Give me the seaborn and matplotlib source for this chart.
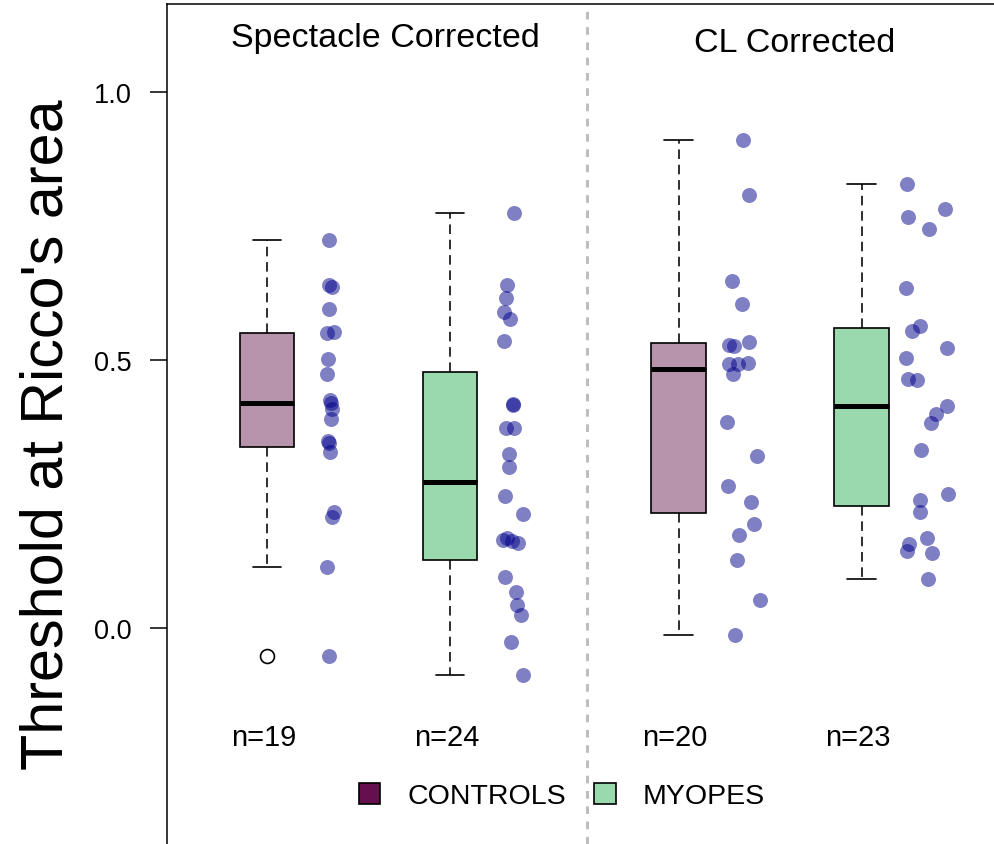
import numpy as np
import pandas as pd
import matplotlib
matplotlib.use("Agg")
import matplotlib.pyplot as plt
import seaborn as sns
from matplotlib.patches import Patch

# | data |------------------------------------------------------------------------------------------------------------|
groups = ["ctrl_spec", "myo_spec", "ctrl_cl", "myo_cl"]
positions = [1.0, 2.0, 3.25, 4.25]

ctrl_spec = [0.7245, 0.640, 0.636, 0.596, 0.552, 0.550, 0.502, 0.474, 0.425, 0.420,
             0.409, 0.389, 0.348, 0.346, 0.329, 0.217, 0.208, 0.113, -0.053]
myo_spec = [0.774, 0.639, 0.616, 0.589, 0.577, 0.536, 0.418, 0.416, 0.374, 0.373,
            0.325, 0.300, 0.246, 0.213, 0.167, 0.165, 0.162, 0.158, 0.095, 0.067,
            0.043, 0.025, -0.026, -0.088]
ctrl_cl = [0.910, 0.808, 0.647, 0.6045, 0.534, 0.528, 0.5255, 0.4938, 0.4925, 0.4925,
           0.474, 0.384, 0.320, 0.2655, 0.2345, 0.194, 0.174, 0.127, 0.052, -0.013]
myo_cl = [0.828, 0.782, 0.767, 0.744, 0.634, 0.563, 0.555, 0.522, 0.504, 0.465,
          0.463, 0.415, 0.399, 0.3825, 0.333, 0.250, 0.239, 0.216, 0.167, 0.157,
          0.144, 0.140, 0.091]

# horizontal jitter of each point (category units), as seen in the picture
jit_ctrl_spec = [0, 0, 0.015, 0, 0.027, -0.013, -0.007, -0.013, 0.004, 0.009,
                 0.018, 0.009, -0.007, -0.002, 0.005, 0.027, 0.018, -0.009, 0]
jit_myo_spec = [0.011, -0.026, -0.033, -0.044, -0.011, -0.044, 0.004, 0.007, -0.033, 0.013,
                -0.016, -0.015, -0.037, 0.058, -0.026, -0.048, 0.002, 0.031, -0.038, 0.022,
                0.029, 0.048, -0.005, 0.058]
jit_ctrl_cl = [0.013, 0.045, -0.049, 0.004, 0.045, -0.064, -0.038, 0.040, -0.067, -0.018,
               -0.040, -0.077, 0.087, -0.069, 0.055, 0.073, -0.009, -0.022, 0.104, -0.033]
jit_myo_cl = [-0.093, 0.115, -0.084, 0.029, -0.095, -0.020, -0.066, 0.126, -0.098, -0.086,
              -0.038, 0.126, 0.066, 0.038, -0.013, 0.130, -0.020, -0.023, 0.016, -0.080,
              -0.093, 0.044, 0.023]

values = [ctrl_spec, myo_spec, ctrl_cl, myo_cl]
jitters = [jit_ctrl_spec, jit_myo_spec, jit_ctrl_cl, jit_myo_cl]
box_colors = ["#B794AB", "#9AD9AE", "#B794AB", "#9AD9AE"]
legend_labels = ["CONTROLS", "MYOPES"]
legend_colors = ["#650F4F", "#9AD9AE"]
panel_titles = ["Spectacle Corrected", "CL Corrected"]


def tukey_stats(vals, coef=1.5):
    """R style boxplot stats (Tukey hinges)"""
    v = np.sort(np.asarray(vals, dtype=float))
    n = len(v)
    n4 = np.floor((n + 3) / 2) / 2
    d = np.array([1, n4, (n + 1) / 2, n + 1 - n4, n]) - 1
    five = 0.5 * (v[np.floor(d).astype(int)] + v[np.ceil(d).astype(int)])
    q1, med, q3 = five[1], five[2], five[3]
    iqr = q3 - q1
    inside = v[(v >= q1 - coef * iqr) & (v <= q3 + coef * iqr)]
    fliers = v[(v < q1 - coef * iqr) | (v > q3 + coef * iqr)]
    return dict(med=med, q1=q1, q3=q3, whislo=inside.min(), whishi=inside.max(), fliers=fliers)


sns.set_style("ticks")
plt.rcParams["font.family"] = ["Liberation Sans", "DejaVu Sans"]
plt.rcParams.update({"text.color": "black", "axes.labelcolor": "black",
                     "xtick.color": "black", "ytick.color": "black"})

fig = plt.figure(figsize=(9.95, 8.45), dpi=100)
ax = fig.add_axes([167 / 995, 0.0, 1 - 167 / 995, 1 - 5 / 845])

# separator between the two panels
ax.axvline(2.7486, color="#BEBEBE", lw=2.2, linestyle=(0, (2.5, 2.5)), zorder=0)

stats = [tukey_stats(v) for v in values]
bp = ax.bxp(stats, positions=positions, widths=0.3, capwidths=0.157, patch_artist=True,
            boxprops=dict(edgecolor="black", linewidth=1.2),
            medianprops=dict(color="black", linewidth=3.6, solid_capstyle="butt"),
            whiskerprops=dict(color="black", linewidth=1.15, linestyle=(0, (6, 3.6))),
            capprops=dict(color="black", linewidth=1.2),
            flierprops=dict(marker="o", markerfacecolor="none", markeredgecolor="black",
                            markersize=10, markeredgewidth=1.2))
for box, col in zip(bp["boxes"], box_colors):
    box.set_facecolor(col)

# jittered points beside each box
rows = []
for g, p, v, j in zip(groups, positions, values, jitters):
    for val, dx in zip(v, j):
        rows.append({"group": g, "x": p + 0.339 + dx, "value": val})
df = pd.DataFrame(rows)
sns.scatterplot(data=df, x="x", y="value", ax=ax, color="#00008B", alpha=0.5,
                s=116, linewidth=0, zorder=3, legend=False)

# sample sizes
for p, v in zip(positions, values):
    ax.text(p - 0.02, -0.218, f"n={len(v)}", ha="center", va="baseline", fontsize=21)

ax.text(1.648, 1.086, panel_titles[0], ha="center", va="baseline", fontsize=24.5)
ax.text(3.885, 1.0765, panel_titles[1], ha="center", va="baseline", fontsize=24.5)

ax.set_xlim(0.4536, 4.978)
ax.set_ylim(-0.40299, 1.16418)
ax.set_xticks([])
ax.set_yticks([0.0, 0.5, 1.0])
ax.set_yticklabels(["0.0", "0.5", "1.0"])
ax.tick_params(axis="y", length=12.2, width=1.1, pad=13, labelsize=19.5, color="black")
ax.set_xlabel("")
ax.set_ylabel("Threshold at Ricco's area", fontsize=42.7)
ax.yaxis.set_label_coords(-0.112, 0.488)

for side in ["right", "bottom"]:
    ax.spines[side].set_visible(False)
for side in ["left", "top"]:
    ax.spines[side].set_color("black")
    ax.spines[side].set_linewidth(1.1)

handles = [Patch(facecolor=c, edgecolor="black", linewidth=1.2) for c in legend_colors]
fig.legend(handles, legend_labels, loc="center", bbox_to_anchor=(562 / 995, 1 - 797 / 845),
           ncol=2, frameon=False, fontsize=20.5, handlelength=0.75, handleheight=0.75,
           handletextpad=0.95, columnspacing=1.0)

fig.savefig("out.png", dpi=100)
